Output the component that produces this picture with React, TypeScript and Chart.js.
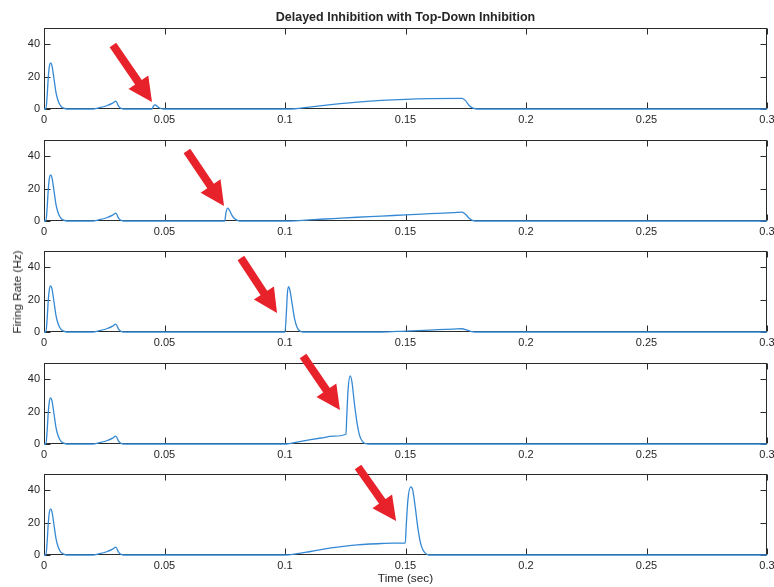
import React, { useEffect, useRef } from "react";
import { Chart, registerables } from "chart.js";
Chart.register(...registerables);

// ---------- data ----------
const xTicks = [0, 0.05, 0.1, 0.15, 0.2, 0.25, 0.3];
const xTickLabels = ["0", "0.05", "0.1", "0.15", "0.2", "0.25", "0.3"];
const yTicks = [0, 20, 40];
const yMax = 50;
const xMax = 0.3;

const titleText = "Delayed Inhibition with Top-Down Inhibition";
const yLabelText = "Firing Rate (Hz)";
const xLabelText = "Time (sec)";

// shared onset response (same in every panel)
const onsetTime = [0, 0.0008, 0.0013, 0.0018, 0.0023, 0.0028, 0.0034, 0.0042, 0.005, 0.006, 0.007, 0.0082, 0.0095, 0.02, 0.023, 0.026, 0.0285, 0.0298, 0.031, 0.0322, 0.034];
const onsetRate = [0, 0, 8, 20, 27, 28.5, 26, 18, 10, 4.5, 1.8, 0.5, 0, 0, 0.8, 2, 3.6, 4.8, 1.6, 0.3, 0];

const panel1Time = [0.0448, 0.0455, 0.0462, 0.047, 0.048, 0.0495, 0.102, 0.11, 0.12, 0.13, 0.14, 0.15, 0.16, 0.1735, 0.175, 0.1765, 0.178, 0.18, 0.3];
const panel1Rate = [0, 2.0, 2.5, 1.6, 0.6, 0, 0, 1.2, 2.8, 4.2, 5.3, 6.0, 6.4, 6.6, 5.0, 2.0, 0.5, 0, 0];

const panel2Time = [0.075, 0.0755, 0.0762, 0.077, 0.078, 0.079, 0.0805, 0.082, 0.102, 0.11, 0.12, 0.13, 0.14, 0.15, 0.16, 0.17, 0.1735, 0.175, 0.1765, 0.178, 0.18, 0.3];
const panel2Rate = [0, 5, 8, 6.5, 3.5, 1.5, 0.3, 0, 0, 0.7, 1.5, 2.3, 3.0, 3.8, 4.5, 5.2, 5.5, 4.0, 1.5, 0.3, 0, 0];

const panel3Time = [0.1, 0.1005, 0.101, 0.1015, 0.102, 0.103, 0.104, 0.105, 0.106, 0.1075, 0.14, 0.15, 0.16, 0.17, 0.1735, 0.175, 0.177, 0.179, 0.3];
const panel3Rate = [0, 10, 24, 28, 26, 17, 8, 3, 0.8, 0, 0, 0.6, 1.2, 1.8, 2.0, 1.4, 0.4, 0, 0];

const panel4Time = [0.1006, 0.105, 0.11, 0.115, 0.12, 0.1253, 0.1256, 0.1262, 0.1271, 0.1278, 0.1288, 0.13, 0.131, 0.1322, 0.1335, 0.135, 0.3];
const panel4Rate = [0, 1.2, 2.5, 3.7, 4.8, 6.0, 16, 34, 42, 38, 25, 12, 5, 1.5, 0.2, 0, 0];

const panel5Time = [0.1, 0.105, 0.11, 0.115, 0.12, 0.125, 0.13, 0.135, 0.14, 0.145, 0.1499, 0.1503, 0.151, 0.1522, 0.153, 0.154, 0.1552, 0.1563, 0.1573, 0.1583, 0.1597, 0.3];
const panel5Rate = [0, 0.8, 2.0, 3.3, 4.5, 5.5, 6.3, 6.8, 7.1, 7.3, 7.4, 18, 34, 42, 40, 30, 16, 7, 3, 1, 0, 0];

const panelTimes = [panel1Time, panel2Time, panel3Time, panel4Time, panel5Time];
const panelRates = [panel1Rate, panel2Rate, panel3Rate, panel4Rate, panel5Rate];

// annotation arrows (data units: [time, rate])
const arrowTails = [[0.0286, 39.5], [0.0593, 43.2], [0.0817, 45.7], [0.1075, 54.3], [0.1303, 54.3]];
const arrowTips = [[0.0448, 4.3], [0.0747, 9.3], [0.0967, 11.7], [0.1228, 21], [0.1461, 21]];

// ---------- layout ----------
const W = 774;
const PLOT_LEFT = 44;
const PLOT_RIGHT = 767;
const PLOT_TOPS = [28, 140, 251, 363, 474];
const PLOT_H = 81;
const PAD_TOP = 16;
const PAD_BOTTOM = 22;
const FONT = "'Liberation Sans', Arial, Helvetica, sans-serif";
const TEXT_COLOR = "#262626";
const LINE_COLOR = "#3589d4";
const ARROW_COLOR = "#e8222a";

const framePlugin = {
  id: "frame",
  beforeDatasetsDraw(chart: any) {
    const { ctx, chartArea, scales } = chart;
    const l = Math.round(chartArea.left) + 0.5;
    const r = Math.round(chartArea.right) - 0.5;
    const t = Math.round(chartArea.top) + 0.5;
    const b = Math.round(chartArea.bottom) - 0.5;
    ctx.save();
    ctx.strokeStyle = "#2a2a2a";
    ctx.lineWidth = 1;
    ctx.strokeRect(l, t, r - l, b - t);
    ctx.beginPath();
    const tl = 6;
    for (const v of xTicks) {
      const px = Math.round(scales.x.getPixelForValue(v)) + 0.5;
      ctx.moveTo(px, b);
      ctx.lineTo(px, b - tl);
      ctx.moveTo(px, t);
      ctx.lineTo(px, t + tl);
    }
    for (const v of yTicks) {
      const py = Math.round(scales.y.getPixelForValue(v)) + 0.5;
      ctx.moveTo(l, py);
      ctx.lineTo(l + tl, py);
      ctx.moveTo(r, py);
      ctx.lineTo(r - tl, py);
    }
    ctx.stroke();
    ctx.restore();
  },
};

const arrowPlugin = {
  id: "arrow",
  afterDraw(chart: any, _args: any, opts: any) {
    if (!opts || !opts.tail || !opts.tip) return;
    const { ctx, scales } = chart;
    const x0 = scales.x.getPixelForValue(opts.tail[0]);
    const y0 = scales.y.getPixelForValue(opts.tail[1]);
    const x1 = scales.x.getPixelForValue(opts.tip[0]);
    const y1 = scales.y.getPixelForValue(opts.tip[1]);
    const dx = x1 - x0;
    const dy = y1 - y0;
    const len = Math.hypot(dx, dy);
    const ux = dx / len;
    const uy = dy / len;
    const headLen = 24;
    const headHalf = 12;
    const bx = x1 - ux * headLen;
    const by = y1 - uy * headLen;
    ctx.save();
    ctx.strokeStyle = ARROW_COLOR;
    ctx.fillStyle = ARROW_COLOR;
    ctx.lineWidth = 8;
    ctx.lineCap = "butt";
    ctx.beginPath();
    ctx.moveTo(x0, y0);
    ctx.lineTo(bx + ux * 2, by + uy * 2);
    ctx.stroke();
    ctx.beginPath();
    ctx.moveTo(x1, y1);
    ctx.lineTo(bx - uy * headHalf, by + ux * headHalf);
    ctx.lineTo(bx + uy * headHalf, by - ux * headHalf);
    ctx.closePath();
    ctx.fill();
    ctx.restore();
  },
};

function Panel({ index }: { index: number }) {
  const ref = useRef<HTMLCanvasElement | null>(null);
  const height = PAD_TOP + PLOT_H + PAD_BOTTOM;
  useEffect(() => {
    if (!ref.current) return;
    const times = [...onsetTime, ...panelTimes[index]];
    const rates = [...onsetRate, ...panelRates[index]];
    const points = times.map((t, i) => ({ x: t, y: rates[i] }));
    const chart = new Chart(ref.current, {
      type: "line",
      data: {
        datasets: [
          {
            data: points,
            borderColor: LINE_COLOR,
            borderWidth: 1.3,
            pointRadius: 0,
            fill: false,
            cubicInterpolationMode: "monotone",
            clip: 4,
          } as any,
        ],
      },
      options: {
        responsive: false,
        animation: false,
        devicePixelRatio: 1,
        layout: { padding: { top: PAD_TOP, right: W - PLOT_RIGHT, left: 0, bottom: 0 } },
        plugins: {
          legend: { display: false },
          tooltip: { enabled: false },
          title: { display: false },
          arrow: { tail: arrowTails[index], tip: arrowTips[index] },
        } as any,
        scales: {
          x: {
            type: "linear",
            min: 0,
            max: xMax,
            grid: { display: false, drawTicks: false },
            border: { display: false },
            afterBuildTicks: (s: any) => {
              s.ticks = xTicks.map((v) => ({ value: v }));
            },
            afterFit: (s: any) => {
              s.height = PAD_BOTTOM;
              s.paddingLeft = 0;
              s.paddingRight = 0;
            },
            ticks: {
              autoSkip: false,
              maxRotation: 0,
              padding: 4,
              color: TEXT_COLOR,
              font: { family: FONT, size: 11 },
              callback: (_v: any, i: number) => xTickLabels[i],
            },
          },
          y: {
            type: "linear",
            min: 0,
            max: yMax,
            grid: { display: false, drawTicks: false },
            border: { display: false },
            afterBuildTicks: (s: any) => {
              s.ticks = yTicks.map((v) => ({ value: v }));
            },
            afterFit: (s: any) => {
              s.width = PLOT_LEFT;
              s.paddingTop = 0;
              s.paddingBottom = 0;
            },
            ticks: {
              padding: 4,
              color: TEXT_COLOR,
              font: { family: FONT, size: 11 },
              callback: (v: any) => String(v),
            },
          },
        },
      } as any,
      plugins: [framePlugin, arrowPlugin],
    });
    return () => chart.destroy();
  }, [index]);
  return (
    <canvas
      ref={ref}
      width={W}
      height={height}
      style={{
        position: "absolute",
        left: 0,
        top: PLOT_TOPS[index] - PAD_TOP,
        width: W,
        height,
      }}
    />
  );
}

export default function App() {
  return (
    <div
      style={{
        position: "fixed",
        left: 0,
        top: 0,
        width: W,
        height: 587,
        background: "#fff",
        overflow: "hidden",
        fontFamily: FONT,
        color: TEXT_COLOR,
      }}
    >
      {[0, 1, 2, 3, 4].map((i) => (
        <Panel key={i} index={i} />
      ))}
      <div
        style={{
          position: "absolute",
          left: PLOT_LEFT,
          width: PLOT_RIGHT - PLOT_LEFT,
          top: 10,
          textAlign: "center",
          fontWeight: "bold",
          fontSize: 12.5,
          lineHeight: "14px",
        }}
      >
        {titleText}
      </div>
      <div
        style={{
          position: "absolute",
          left: 17,
          top: 292,
          transform: "translate(-50%, -50%) rotate(-90deg)",
          whiteSpace: "nowrap",
          fontSize: 11.8,
          lineHeight: "14px",
        }}
      >
        {yLabelText}
      </div>
      <div
        style={{
          position: "absolute",
          left: PLOT_LEFT,
          width: PLOT_RIGHT - PLOT_LEFT,
          top: 571,
          textAlign: "center",
          fontSize: 11.8,
          lineHeight: "14px",
        }}
      >
        {xLabelText}
      </div>
    </div>
  );
}
